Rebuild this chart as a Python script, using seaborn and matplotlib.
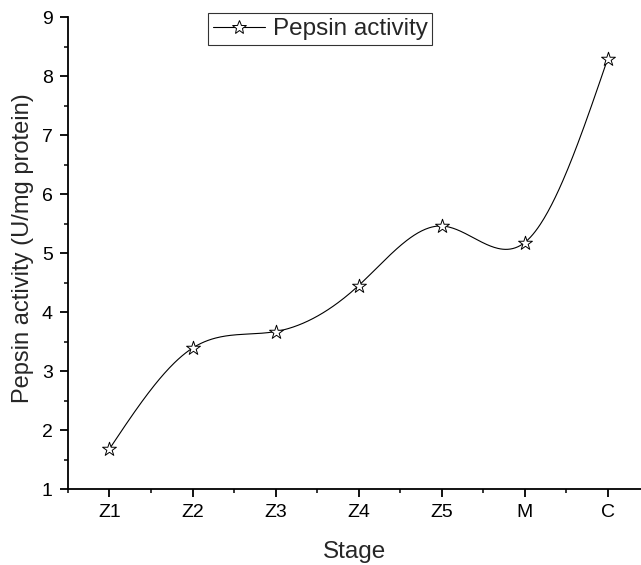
import numpy as np
import pandas as pd
import seaborn as sns
import matplotlib.pyplot as plt
from matplotlib.lines import Line2D
from matplotlib.ticker import MultipleLocator

sns.set_theme(style="ticks")
plt.rcParams["font.family"] = ["Liberation Sans", "DejaVu Sans"]

# data
stages = ["Z1", "Z2", "Z3", "Z4", "Z5", "M", "C"]
activity = [1.68, 3.39, 3.67, 4.45, 5.46, 5.18, 8.30]


def natural_spline(x, y, n=400):
    # natural cubic spline through the points (Origin-style smooth line)
    x = np.asarray(x, float)
    y = np.asarray(y, float)
    k = len(x)
    h = np.diff(x)
    A = np.zeros((k, k))
    b = np.zeros(k)
    A[0, 0] = A[-1, -1] = 1
    for i in range(1, k - 1):
        A[i, i - 1] = h[i - 1]
        A[i, i] = 2 * (h[i - 1] + h[i])
        A[i, i + 1] = h[i]
        b[i] = 6 * ((y[i + 1] - y[i]) / h[i] - (y[i] - y[i - 1]) / h[i - 1])
    m = np.linalg.solve(A, b)
    xs = np.linspace(x[0], x[-1], n)
    idx = np.clip(np.searchsorted(x, xs) - 1, 0, k - 2)
    x0, x1 = x[idx], x[idx + 1]
    hh = x1 - x0
    t0, t1 = x1 - xs, xs - x0
    ys = (m[idx] * t0**3 / (6 * hh) + m[idx + 1] * t1**3 / (6 * hh)
          + (y[idx] / hh - m[idx] * hh / 6) * t0
          + (y[idx + 1] / hh - m[idx + 1] * hh / 6) * t1)
    return xs, ys


pos = np.arange(len(stages))
xs, ys = natural_spline(pos, activity)
df = pd.DataFrame({"pos": pos, "activity": activity})
curve = pd.DataFrame({"x": xs, "y": ys})

fig = plt.figure(figsize=(6.41, 5.65), dpi=100)
ax = fig.add_axes([0.106, 0.1345, 0.894, 0.835])

sns.lineplot(data=curve, x="x", y="y", ax=ax, color="black", linewidth=0.8,
             sort=False, estimator=None)
sns.scatterplot(data=df, x="pos", y="activity", ax=ax, marker="*", s=110,
                facecolor="white", edgecolor="black", linewidth=0.7, zorder=3)

ax.set_xlim(-0.5, 6.4)
ax.set_ylim(1, 9)
ax.set_xticks(pos)
ax.set_xticklabels(stages)
ax.xaxis.set_minor_locator(MultipleLocator(0.5))
ax.yaxis.set_major_locator(MultipleLocator(1))
ax.yaxis.set_minor_locator(MultipleLocator(0.5))

for side in ["top", "right"]:
    ax.spines[side].set_visible(False)
for side in ["left", "bottom"]:
    ax.spines[side].set_linewidth(1.3)
    ax.spines[side].set_color("black")

ax.tick_params(axis="both", which="major", direction="out", length=6,
               width=1.3, labelsize=14, colors="black", pad=5)
ax.tick_params(axis="both", which="minor", direction="out", length=3,
               width=1.3)

ax.set_xlabel("Stage", fontsize=17.5, labelpad=14)
ax.set_ylabel("Pepsin activity (U/mg protein)", fontsize=17)
ax.yaxis.set_label_coords(-0.06, 0.51)

handle = Line2D([], [], color="black", linewidth=0.8, marker="*",
                markersize=10, markerfacecolor="white",
                markeredgecolor="black", markeredgewidth=0.7)
leg = ax.legend([handle], ["Pepsin activity"], loc="upper left",
                bbox_to_anchor=(0.245, 1.008), fontsize=17.5, frameon=True,
                fancybox=False, edgecolor="black", handlelength=2.15,
                handletextpad=0.3, borderpad=0.2, borderaxespad=0)
leg.get_frame().set_linewidth(0.8)

plt.savefig("out.png", dpi=100)
